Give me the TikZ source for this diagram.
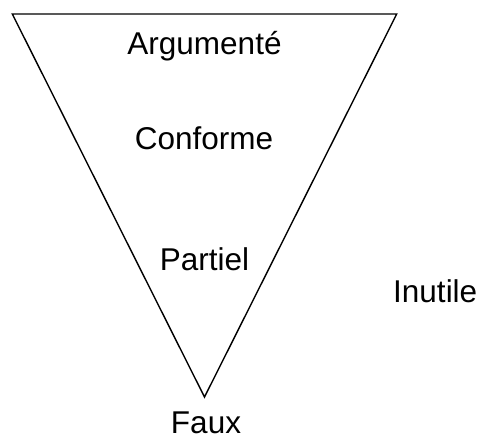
\documentclass[tikz,border=0pt]{standalone}
\usepackage{fontspec}
\setmainfont{Liberation Sans}
\begin{document}
\begin{tikzpicture}[x=1pt,y=-1pt,
  lbl/.style={font=\fontsize{31.5}{33}\selectfont, inner sep=0pt, anchor=base},
  tri/.style={draw=black, line width=1.4pt, line join=miter}]
\useasboundingbox (0,0) rectangle (478,440);
\coordinate (tl) at (12.3,14);
\coordinate (tr) at (396.7,14);
\coordinate (bv) at (204.5,397);
\draw[tri] (tl) -- (tr) -- (bv) -- cycle;
\node[lbl] (arg) at (204.5,54) {Argumenté};
\node[lbl] (conf) at (204,149.5) {Conforme};
\node[lbl] (part) at (204.5,270) {Partiel};
\node[lbl, anchor=base west] (inu) at (393,302) {Inutile};
\node[lbl, text depth=0pt] (faux) at (206,433) {Faux};
\end{tikzpicture}
\end{document}
